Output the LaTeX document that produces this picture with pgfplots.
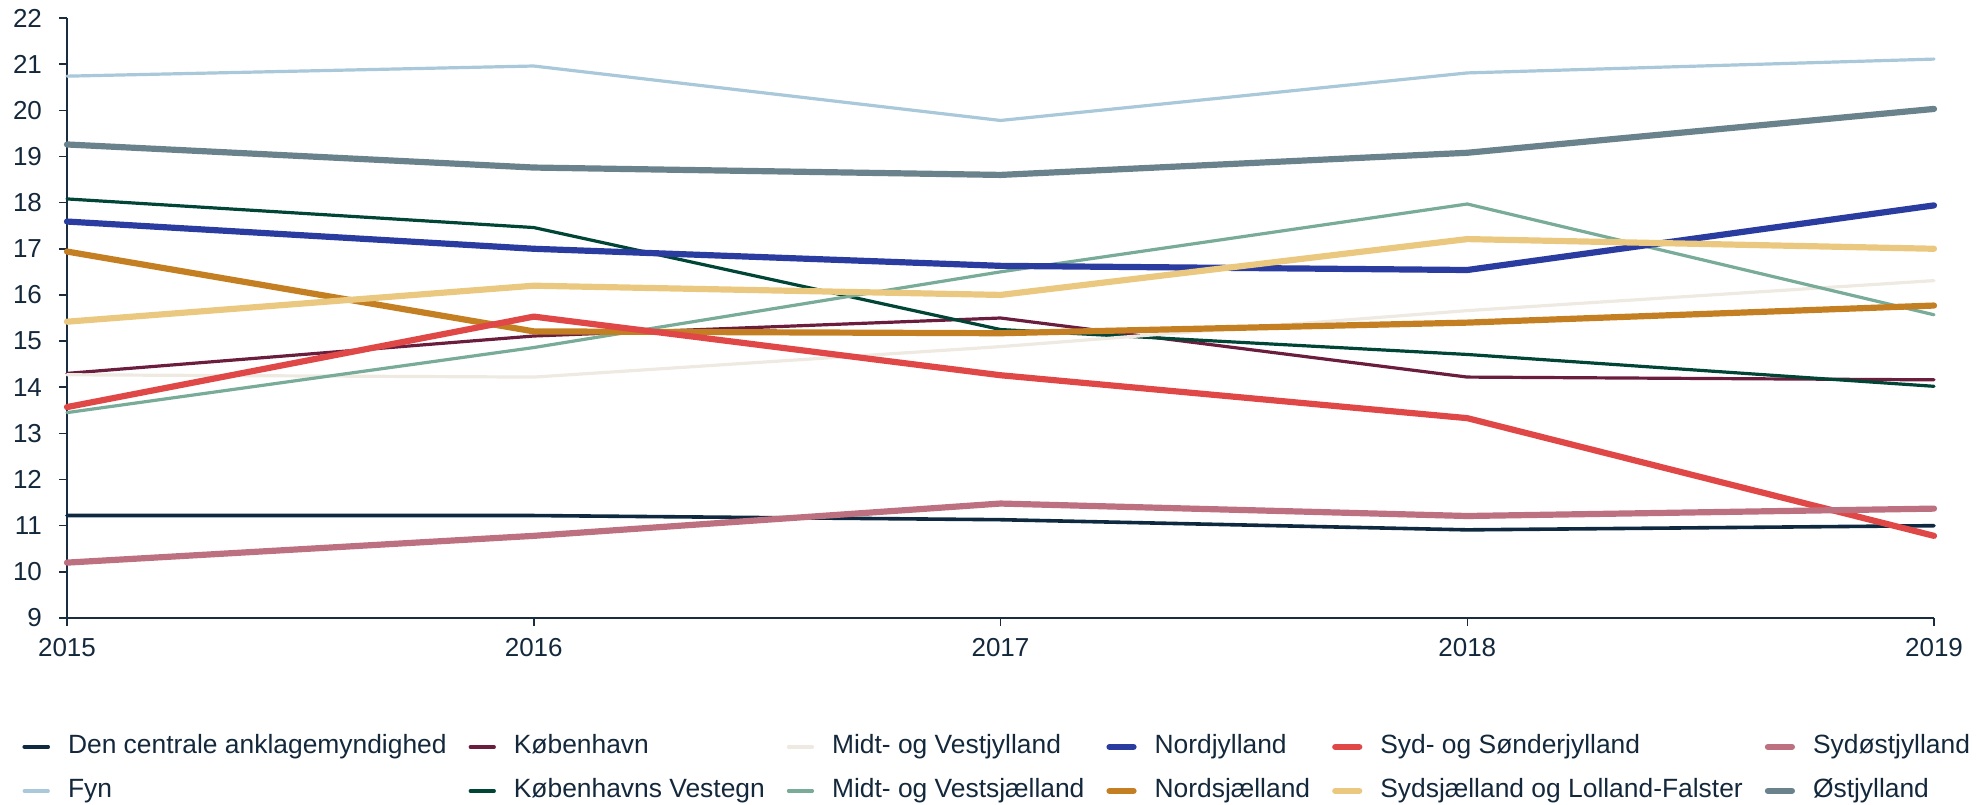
\documentclass[border=0pt]{standalone}
\usepackage{fontspec}
\setmainfont{Liberation Sans}
\usepackage{pgfplots}
\usepackage{pgfplotstable}
\pgfplotsset{compat=1.18}
\definecolor{txt}{HTML}{14283C}
\definecolor{axiscol}{HTML}{1A2D40}
\definecolor{cDen}{HTML}{0F2A40}
\definecolor{cFyn}{HTML}{A9C8D9}
\definecolor{cKbh}{HTML}{6B1D3D}
\definecolor{cKbhV}{HTML}{004535}
\definecolor{cMVJ}{HTML}{EEEAE2}
\definecolor{cMVS}{HTML}{78AB98}
\definecolor{cNJ}{HTML}{2A3C9F}
\definecolor{cNS}{HTML}{C47F22}
\definecolor{cSS}{HTML}{E04848}
\definecolor{cSSL}{HTML}{EBC880}
\definecolor{cSOJ}{HTML}{BC7080}
\definecolor{cOJ}{HTML}{6A828C}
\pgfplotstableread{
year Den Fyn Kbh KbhV MVJ MVS NJ NS SS SSL SOJ OJ
2015 11.22 20.74 14.30 18.08 14.27 13.45 17.59 16.94 13.57 15.42 10.20 19.26
2016 11.22 20.96 15.11 17.46 14.22 14.86 17.00 15.21 15.53 16.20 10.78 18.76
2017 11.13 19.78 15.50 15.25 14.88 16.50 16.63 15.17 14.26 16.00 11.48 18.60
2018 10.91 20.81 14.22 14.71 15.66 17.97 16.54 15.40 13.33 17.21 11.21 19.08
2019 11.00 21.11 14.16 14.02 16.31 15.57 17.94 15.77 10.78 17.00 11.37 20.03
}\data
\begin{document}
\begin{tikzpicture}
\begin{axis}[
  at={(0,0)}, anchor=south west,
  scale only axis, width=933.5pt, height=300pt,
  xmin=2015, xmax=2019, ymin=9, ymax=22,
  xtick={2015,2016,2017,2018,2019}, ytick={9,10,...,22},
  axis lines=left,
  axis line style={color=axiscol, line width=0.75pt, -},
  tick align=outside, major tick length=4pt,
  tick style={color=axiscol, line width=0.75pt},
  x tick label style={/pgf/number format/1000 sep=, yshift=-2.5pt},
  y tick label style={xshift=-5pt},
  /pgf/number format/assume math mode=true,
  tick label style={font=\fontsize{13}{15}\selectfont, text=txt},
  clip=false,
  legend columns=2, transpose legend,
  legend cell align=left,
  legend image code/.code={\draw[#1] (0pt,0pt) -- (12pt,0pt);},
  legend style={at={(-0.02410,-0.19333)}, anchor=north west, draw=none, fill=none,
    inner sep=0pt, row sep=9.5pt, column sep=0pt,
    font=\fontsize{13.2}{15}\selectfont, text=txt,
    nodes={inner sep=0pt, text height=9.5pt, text depth=3pt},
    /tikz/every odd column/.append style={column sep=9pt},
    /tikz/every even column/.append style={column sep=11pt}},
  every axis plot/.append style={line join=round, line cap=round, no markers},
]
\addplot[color=cDen, line width=1.8pt] table[x=year, y=Den] {\data};
\addlegendentry{Den centrale anklagemyndighed}
\addplot[color=cFyn, line width=1.6pt] table[x=year, y=Fyn] {\data};
\addlegendentry{Fyn}
\addplot[color=cKbh, line width=1.6pt] table[x=year, y=Kbh] {\data};
\addlegendentry{København}
\addplot[color=cKbhV, line width=1.6pt] table[x=year, y=KbhV] {\data};
\addlegendentry{Københavns Vestegn}
\addplot[color=cMVJ, line width=1.6pt] table[x=year, y=MVJ] {\data};
\addlegendentry{Midt- og Vestjylland}
\addplot[color=cMVS, line width=1.6pt] table[x=year, y=MVS] {\data};
\addlegendentry{Midt- og Vestsjælland}
\addplot[color=cNJ, line width=3.1pt] table[x=year, y=NJ] {\data};
\addlegendentry{Nordjylland}
\addplot[color=cNS, line width=3.1pt] table[x=year, y=NS] {\data};
\addlegendentry{Nordsjælland}
\addplot[color=cSS, line width=3.1pt] table[x=year, y=SS] {\data};
\addlegendentry{Syd- og Sønderjylland}
\addplot[color=cSSL, line width=3.1pt] table[x=year, y=SSL] {\data};
\addlegendentry{Sydsjælland og Lolland-Falster}
\addplot[color=cSOJ, line width=3.1pt] table[x=year, y=SOJ] {\data};
\addlegendentry{Sydøstjylland}
\addplot[color=cOJ, line width=3.1pt] table[x=year, y=OJ] {\data};
\addlegendentry{Østjylland}
\end{axis}
\pgfresetboundingbox
\path[use as bounding box] (-33.5pt,-93pt) rectangle (957.5pt,309pt);
\end{tikzpicture}
\end{document}
